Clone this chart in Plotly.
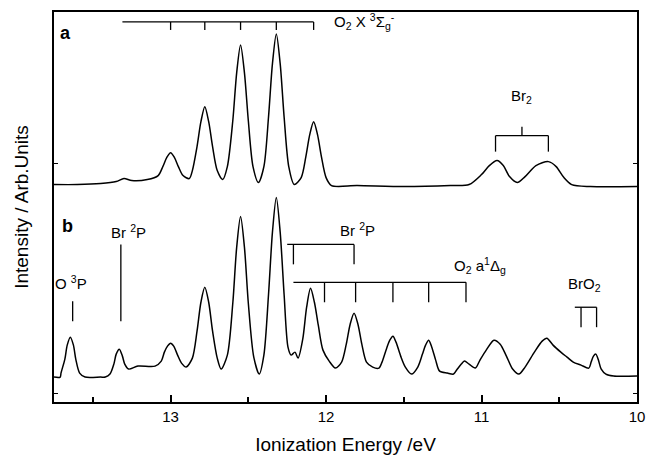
import plotly.graph_objects as go

# ---------------- data (ionization energy in eV, intensity in arb. units) -------------
energy_a = [13.75, 13.60, 13.45, 13.35, 13.30, 13.25, 13.15,
            13.08, 13.05, 13.025, 13.00, 12.975, 12.95, 12.92, 12.88,
            12.86, 12.83, 12.805, 12.78, 12.755, 12.73, 12.70, 12.665,
            12.635, 12.60, 12.575, 12.55, 12.525, 12.50, 12.47, 12.435,
            12.40, 12.37, 12.345, 12.32, 12.295, 12.27, 12.24, 12.205,
            12.16, 12.13, 12.105, 12.08, 12.055, 12.03, 12.00, 11.965,
            11.80, 11.50, 11.20, 11.08, 11.00, 10.95, 10.90, 10.86, 10.82,
            10.77, 10.72, 10.65, 10.57, 10.52, 10.47, 10.42, 10.30, 10.00]
intensity_a = [218, 218, 219, 221, 224, 222, 223,
               227, 236, 245, 250, 245, 236, 227, 224,
               232, 256, 281, 296, 281, 256, 232, 223,
               236, 282, 330, 358, 330, 282, 236, 220,
               236, 286, 339, 369, 339, 286, 236, 218,
               225, 246, 268, 281, 268, 246, 225, 217,
               217, 216, 217, 218, 228, 237, 242, 237, 226,
               220, 226, 237, 241, 236, 225, 218, 216, 216]

energy_b = [13.75, 13.71, 13.705, 13.68, 13.665, 13.645, 13.625, 13.61, 13.585, 13.55,
            13.45, 13.42, 13.39, 13.365, 13.35, 13.33, 13.31, 13.295, 13.27, 13.21, 13.10,
            13.06, 13.04, 13.02, 13.00, 12.98, 12.955, 12.93, 12.90,
            12.86, 12.83, 12.805, 12.78, 12.755, 12.73, 12.70, 12.675,
            12.635, 12.60, 12.575, 12.55, 12.525, 12.50, 12.465, 12.43,
            12.40, 12.37, 12.345, 12.32, 12.295, 12.27, 12.245, 12.225, 12.20, 12.18,
            12.15, 12.125, 12.10, 12.075, 12.05, 12.02, 11.98, 11.94,
            11.90, 11.87, 11.845, 11.82, 11.795, 11.77, 11.74, 11.70, 11.66,
            11.64, 11.61, 11.59, 11.57, 11.55, 11.52, 11.49, 11.45,
            11.41, 11.38, 11.36, 11.34, 11.32, 11.295, 11.27, 11.22, 11.18,
            11.16, 11.13, 11.11, 11.08, 11.04,
            11.01, 10.97, 10.92, 10.88, 10.84, 10.80, 10.76,
            10.72, 10.66, 10.61, 10.58, 10.54, 10.49, 10.45, 10.41, 10.36, 10.31,
            10.295, 10.28, 10.265, 10.25, 10.23, 10.20, 10.15, 10.00]
intensity_b = [25, 25, 29, 43, 57, 65, 57, 43, 29, 25,
               25, 25, 28, 38, 48, 53, 46, 38, 33, 36, 36,
               41, 50, 56, 59, 56, 47, 39, 35,
               44, 71, 100, 115, 100, 71, 44, 33,
               47, 99, 155, 186, 155, 99, 45, 28,
               47, 108, 170, 205, 170, 108, 55, 47, 50, 44,
               63, 95, 114, 100, 77, 52, 41, 34,
               40, 58, 78, 89, 78, 58, 40, 35, 34,
               40, 54, 62, 66, 60, 46, 35, 28,
               35, 48, 57, 62, 55, 42, 31, 29, 28,
               32, 38, 41, 38, 34,
               42, 52, 62, 58, 46, 33, 28,
               35, 50, 61, 64, 57, 50, 45, 40, 37, 34,
               40, 46, 48, 43, 33, 28, 26, 26]

# assignment energies (eV)
o2_x_levels = [13.00, 12.78, 12.55, 12.32, 12.08]
o2_x_start = 13.31
br2_levels = [10.91, 10.57]
o3p_level = 13.63
br2p_left_level = 13.32
br2p_levels = [12.21, 11.82]
o2_a_levels = [12.01, 11.81, 11.57, 11.34, 11.10]
o2_a_start = 12.21
bro2_levels = [10.36, 10.26]

tick_vals = [13, 12, 11, 10]
tick_text = ["13", "12", "11", "10"]
minor_vals = [13.5, 12.5, 11.5, 10.5]
y_tick_vals = [9, 239]

FONT = "Liberation Sans, Arial, sans-serif"

fig = go.Figure()
for ex, iy in [(energy_a, intensity_a), (energy_b, intensity_b)]:
    fig.add_trace(go.Scatter(x=ex, y=iy, mode="lines",
                             line=dict(color="black", width=1.5, shape="spline", smoothing=0.8),
                             showlegend=False, hoverinfo="skip"))

shapes = []
def seg(x0, y0, x1, y1, w=1.3):
    shapes.append(dict(type="line", xref="x", yref="y", x0=x0, y0=y0, x1=x1, y1=y1,
                       line=dict(color="black", width=w)))

# O2 X bracket
seg(o2_x_start, 381, o2_x_levels[-1], 381)
for e in o2_x_levels:
    seg(e, 381, e, 373)
# Br2 bracket
seg(br2_levels[0], 267, br2_levels[1], 267)
for e in br2_levels:
    seg(e, 267, e, 251)
mid = (br2_levels[0] + br2_levels[1]) / 2
seg(mid, 267, mid, 276)
# O 3P and Br 2P single lines
seg(o3p_level, 101, o3p_level, 81)
seg(br2p_left_level, 158, br2p_left_level, 81)
# Br 2P bracket
seg(br2p_levels[0] + 0.04, 158, br2p_levels[1], 158)
for e in br2p_levels:
    seg(e, 158, e, 138)
# O2 a bracket
seg(o2_a_start, 120, o2_a_levels[-1], 120)
for e in o2_a_levels:
    seg(e, 120, e, 100)
# BrO2 bracket
seg(bro2_levels[0] + 0.04, 95, bro2_levels[1], 95)
for e in bro2_levels:
    seg(e, 95, e, 75)

ann = []
def txt(x, y, s, size=15, xanchor="center", bold=False):
    ann.append(dict(x=x, y=y, xref="x", yref="y", text=("<b>%s</b>" % s) if bold else s,
                    showarrow=False, xanchor=xanchor, yanchor="middle",
                    font=dict(family=FONT, size=size, color="black")))

txt(13.675, 370, "a", size=18, bold=True)
txt(13.66, 176, "b", size=18, bold=True)
txt(11.96, 381, "O<sub>2</sub> X <sup>3</sup>Σ<sub>g</sub><sup>-</sup>", xanchor="left")
txt(10.745, 306, "Br<sub>2</sub>")
txt(13.64, 120, "O <sup>3</sup>P")
txt(13.27, 171, "Br <sup>2</sup>P")
txt(11.80, 173, "Br <sup>2</sup>P")
txt(11.01, 137, "O<sub>2</sub> a<sup>1</sup>Δ<sub>g</sub>")
txt(10.34, 118, "BrO<sub>2</sub>")

fig.update_layout(
    width=652, height=459,
    margin=dict(l=54, r=7, t=12, b=56),
    paper_bgcolor="white", plot_bgcolor="white",
    shapes=shapes, annotations=ann,
    font=dict(family=FONT, color="black"),
    xaxis=dict(range=[13.75, 10.0], showgrid=False, zeroline=False,
               showline=True, linecolor="black", linewidth=2, mirror=True,
               ticks="inside", ticklen=7, tickwidth=1.5, tickcolor="black",
               tickvals=tick_vals, ticktext=tick_text,
               tickfont=dict(family=FONT, size=15),
               minor=dict(tickvals=minor_vals, ticks="inside", ticklen=5,
                          tickwidth=1.5, tickcolor="black"),
               title=dict(text="Ionization Energy /eV", font=dict(family=FONT, size=19),
                          standoff=14)),
    yaxis=dict(range=[0, 391], showgrid=False, zeroline=False,
               showline=True, linecolor="black", linewidth=2, mirror="ticks",
               ticks="inside", ticklen=4, tickwidth=1.2, tickcolor="black",
               tickvals=y_tick_vals, showticklabels=False,
               title=dict(text="Intensity / Arb.Units", font=dict(family=FONT, size=19),
                          standoff=18)),
)

fig.write_html("out.html")
